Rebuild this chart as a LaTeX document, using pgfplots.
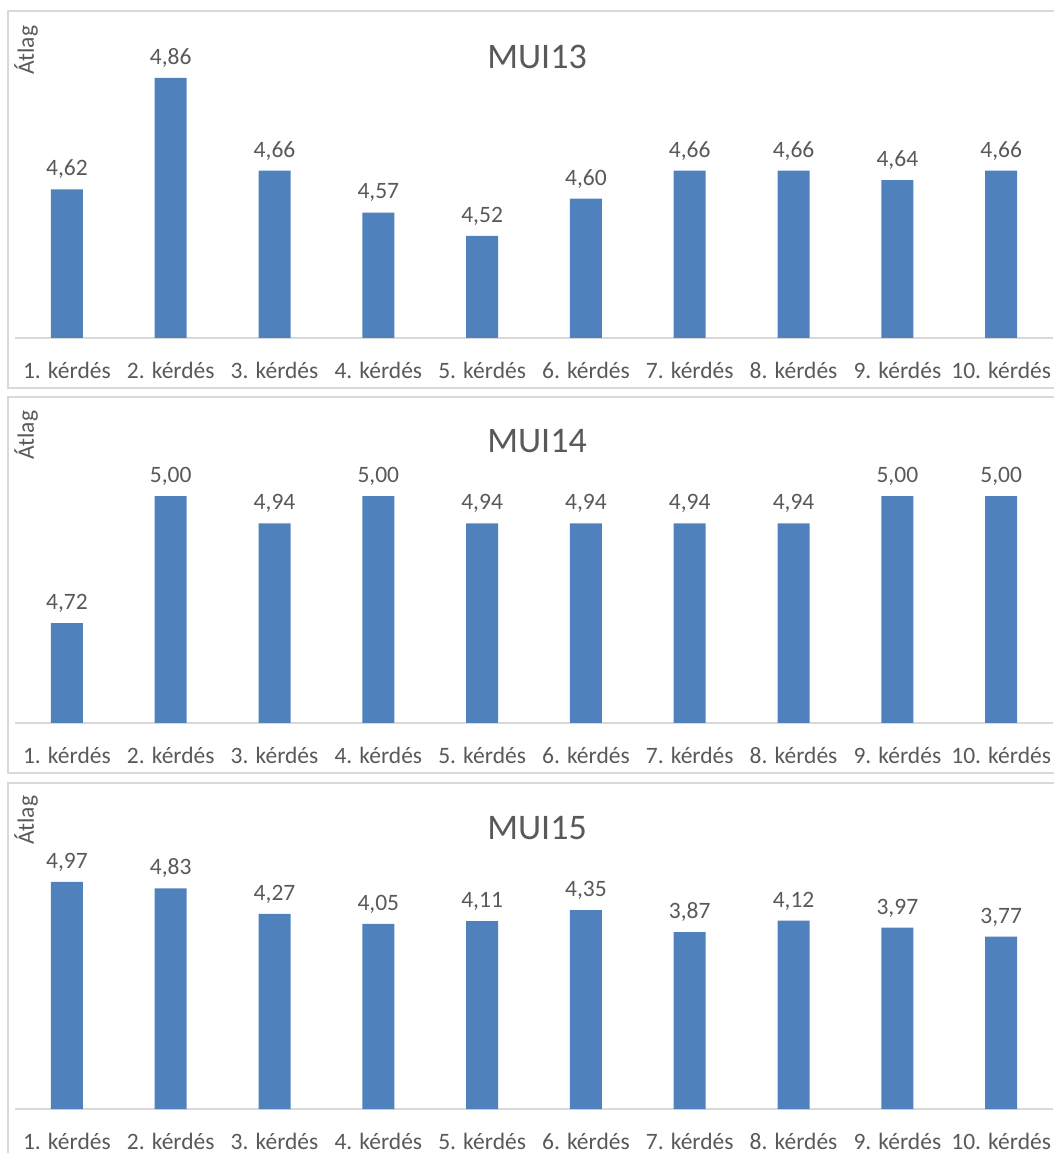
\documentclass[border=0pt]{standalone}
\usepackage{pgfplots}
\pgfplotsset{compat=1.18}
\usepackage{fontspec}
\setmainfont{Carlito}
\definecolor{barblue}{HTML}{4F81BD}
\definecolor{txtgray}{HTML}{595959}
\definecolor{linegray}{HTML}{D9D9D9}
\pgfplotsset{
  panel/.style={
    scale only axis, width=1038pt,
    xmin=-0.5, xmax=9.5,
    axis x line=bottom, axis y line=none,
    x axis line style={-, draw=linegray, line width=1.2pt},
    xtick={0,...,9},
    xticklabels={1. kérdés,2. kérdés,3. kérdés,4. kérdés,5. kérdés,6. kérdés,7. kérdés,8. kérdés,9. kérdés,10. kérdés},
    major tick length=0pt,
    xticklabel style={font=\fontsize{23.5}{28}\selectfont, text=txtgray, yshift=-21pt},
    ytick=\empty,
    clip=false,
    /pgf/number format/.cd, fixed, fixed zerofill, precision=2, use comma, assume math mode=true,
    /pgfplots/.cd,
    nodes near coords,
    nodes near coords style={font=\fontsize{23.5}{28}\selectfont, text=txtgray, yshift=7pt},
  },
  bars/.style={ybar, bar width=32pt, fill=barblue, draw=none},
}
\begin{document}
\begin{tikzpicture}[x=1pt,y=1pt]
\useasboundingbox (0,0) rectangle (1054,1153);
% panel boxes
\draw[linegray, line width=1.5pt] (8,1153-11) rectangle (1070,1153-388);
\draw[linegray, line width=1.5pt] (8,1153-397) rectangle (1070,1153-773);
\draw[linegray, line width=1.5pt] (8,1153-783) rectangle (1070,-20);
% panel 1
\begin{axis}[panel, at={(15pt,815pt)}, anchor=south west, height=278.8pt, ymin=4.3, ymax=4.9]
\addplot[bars] coordinates {(0,4.62) (1,4.86) (2,4.66) (3,4.57) (4,4.52) (5,4.60) (6,4.66) (7,4.66) (8,4.64) (9,4.66)};
\end{axis}
\node[text=txtgray, font=\fontsize{36}{42}\selectfont] at (537,1153-57) {MUI13};
\node[text=txtgray, font=\fontsize{23.5}{28}\selectfont, rotate=90] at (26,1153-50) {Átlag};
% panel 2
\begin{axis}[panel, at={(15pt,430pt)}, anchor=south west, height=272.2pt, ymin=4.5, ymax=5.1]
\addplot[bars] coordinates {(0,4.72) (1,5.00) (2,4.94) (3,5.00) (4,4.94) (5,4.94) (6,4.94) (7,4.94) (8,5.00) (9,5.00)};
\end{axis}
\node[text=txtgray, font=\fontsize{36}{42}\selectfont] at (537,1153-441) {MUI14};
\node[text=txtgray, font=\fontsize{23.5}{28}\selectfont, rotate=90] at (26,1153-435) {Átlag};
% panel 3
\begin{axis}[panel, at={(15pt,44pt)}, anchor=south west, height=274.2pt, ymin=0, ymax=6]
\addplot[bars] coordinates {(0,4.97) (1,4.83) (2,4.27) (3,4.05) (4,4.11) (5,4.35) (6,3.87) (7,4.12) (8,3.97) (9,3.77)};
\end{axis}
\node[text=txtgray, font=\fontsize{36}{42}\selectfont] at (537,1153-828) {MUI15};
\node[text=txtgray, font=\fontsize{23.5}{28}\selectfont, rotate=90] at (26,1153-820) {Átlag};
\end{tikzpicture}
\end{document}
